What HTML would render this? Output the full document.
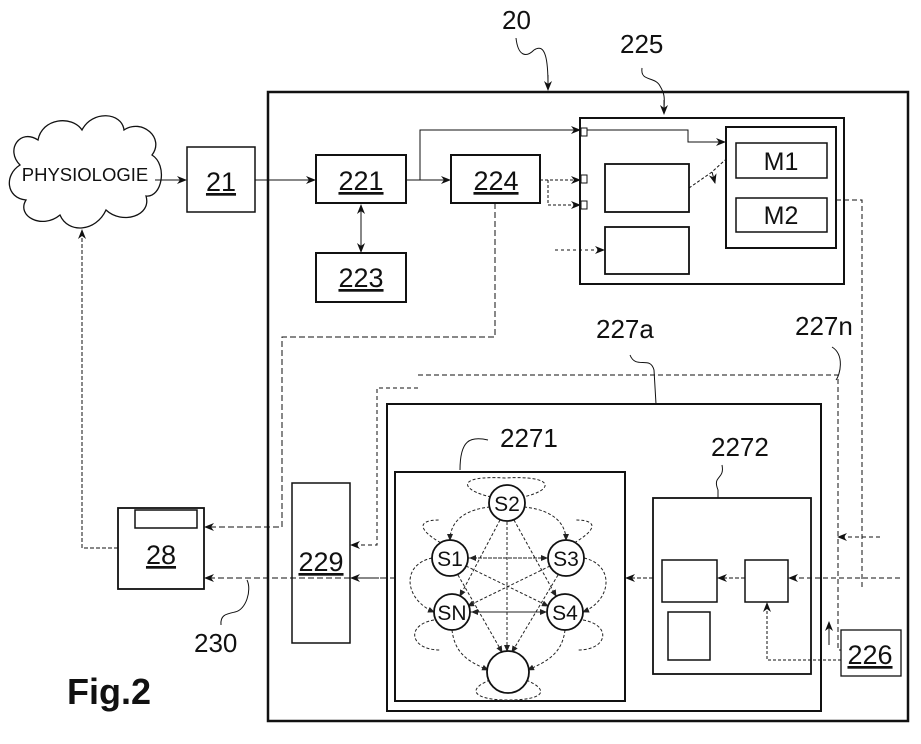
<!DOCTYPE html>
<html><head><meta charset="utf-8"><style>
body{margin:0;background:#fff}
svg{display:block}
text{font-family:"Liberation Sans",sans-serif;fill:#111}
</style></head><body>
<svg width="921" height="744" viewBox="0 0 921 744" xmlns="http://www.w3.org/2000/svg">
<defs>
<marker id="a" markerWidth="10" markerHeight="8" refX="9" refY="4" orient="auto" markerUnits="userSpaceOnUse"><path d="M0,0 L10,4 L0,8 L3,4 Z" fill="#111"/></marker>
<marker id="s" markerWidth="7" markerHeight="6" refX="6" refY="3" orient="auto" markerUnits="userSpaceOnUse"><path d="M0,0 L7,3 L0,6 Z" fill="#222"/></marker>
</defs>
<g fill="none" stroke="#111">
<rect x="268" y="92" width="640" height="629" stroke-width="2.5"/>
<path d="M20,165 C5,150 20,128 38,140 C42,118 72,115 82,130 C92,110 122,112 124,130 C142,118 165,138 152,155 C168,165 162,198 146,196 C152,216 122,225 106,210 C96,232 68,234 60,215 C42,230 16,216 26,200 C6,198 4,175 20,165 Z" stroke-width="1.3"/>
<rect x="187" y="147" width="68" height="65" stroke-width="1.5"/>
<rect x="316" y="155" width="90" height="48" stroke-width="2"/>
<rect x="451" y="155" width="89" height="48" stroke-width="2"/>
<rect x="316" y="253" width="90" height="49" stroke-width="2"/>
<rect x="580" y="118" width="264" height="166" stroke-width="2"/>
<rect x="605" y="164" width="84" height="48" stroke-width="1.8"/>
<rect x="605" y="227" width="84" height="47" stroke-width="1.8"/>
<rect x="726" y="127" width="110" height="121" stroke-width="2"/>
<rect x="736" y="143" width="91" height="35" stroke-width="1.5"/>
<rect x="736" y="198" width="91" height="34" stroke-width="1.5"/>
<rect x="581" y="128" width="6" height="8" stroke-width="1"/>
<rect x="581" y="175" width="6" height="8" stroke-width="1"/>
<rect x="581" y="201" width="6" height="8" stroke-width="1"/>
<rect x="118" y="508" width="86" height="81" stroke-width="1.8"/>
<rect x="135" y="510" width="62" height="18" stroke-width="1.5"/>
<rect x="292" y="483" width="58" height="160" stroke-width="1.5"/>
<rect x="387" y="404" width="434" height="307" stroke-width="2"/>
<rect x="395" y="472" width="230" height="229" stroke-width="2"/>
<rect x="653" y="498" width="158" height="176" stroke-width="1.8"/>
<rect x="662" y="560" width="55" height="42" stroke-width="1.5"/>
<rect x="745" y="560" width="43" height="42" stroke-width="1.5"/>
<rect x="668" y="612" width="42" height="48" stroke-width="1.5"/>
<rect x="841" y="630" width="60" height="46" stroke-width="1.3"/>
<line x1="155" y1="180" x2="186" y2="180" stroke-width="1" marker-end="url(#a)"/>
<line x1="255" y1="180" x2="315" y2="180" stroke-width="1" marker-end="url(#a)"/>
<line x1="406" y1="180" x2="450" y2="180" stroke-width="1" marker-end="url(#a)"/>
<polyline points="420,180 420,130 580,130" stroke-width="1" marker-end="url(#a)"/>
<polyline points="587,130 688,130 688,142 725,142" stroke-width="1" marker-end="url(#a)"/>
<line x1="361" y1="205" x2="361" y2="252" stroke-width="1" stroke-dasharray="3,2" marker-end="url(#a)"/>
<line x1="361" y1="250" x2="361" y2="205" stroke-width="1" stroke-dasharray="3,2" marker-end="url(#a)"/>
<polyline points="540,180 580,180" stroke-width="1" stroke-dasharray="3,2" marker-end="url(#a)"/>
<polyline points="548,180 548,205 580,205" stroke-width="1" stroke-dasharray="3,2" marker-end="url(#a)"/>
<line x1="555" y1="250" x2="604" y2="250" stroke-width="1" stroke-dasharray="3,3" marker-end="url(#a)"/>
<polyline points="689,188 712,172 725,160" stroke-width="1" stroke-dasharray="3,2"/>
<line x1="712" y1="172" x2="715" y2="183" stroke-width="1" marker-end="url(#a)"/>
<polyline points="836,200 862,200 862,590" stroke-width="1" stroke-dasharray="5,3"/>
<polyline points="495,203 495,337 282,337 282,527 205,527" stroke-width="1" stroke-dasharray="6,3" marker-end="url(#a)"/>
<polyline points="118,548 82,548 82,230" stroke-width="1" stroke-dasharray="4,2" marker-end="url(#a)"/>
<line x1="386" y1="578" x2="205" y2="578" stroke-width="1" stroke-dasharray="6,3" marker-end="url(#a)"/>
<line x1="395" y1="578" x2="351" y2="578" stroke-width="1" stroke-dasharray="5,3" marker-end="url(#a)"/>
<polyline points="418,388 377,388 377,545 351,545" stroke-width="1" stroke-dasharray="4,3" marker-end="url(#a)"/>
<polyline points="418,375 838,375 838,650 841,650" stroke-width="1" stroke-dasharray="5,3"/>
<line x1="653" y1="578" x2="626" y2="578" stroke-width="1" stroke-dasharray="4,2" marker-end="url(#a)"/>
<line x1="745" y1="578" x2="718" y2="578" stroke-width="1" stroke-dasharray="4,2" marker-end="url(#a)"/>
<line x1="900" y1="578" x2="789" y2="578" stroke-width="1" stroke-dasharray="5,3" marker-end="url(#a)"/>
<line x1="880" y1="537" x2="838" y2="537" stroke-width="1" stroke-dasharray="4,3" marker-end="url(#a)"/>
<polyline points="841,660 767,660 767,603" stroke-width="1" stroke-dasharray="3,2" marker-end="url(#a)"/>
<line x1="829" y1="645" x2="829" y2="622" stroke-width="1" marker-end="url(#a)"/>
<path d="M516,38 C518,56 526,58 534,50 C546,42 548,62 548,85" stroke-width="1"/>
<line x1="548" y1="75" x2="548" y2="90" stroke-width="1" marker-end="url(#a)"/>
<path d="M642,68 C640,82 655,76 660,86 C666,96 664,100 664,112" stroke-width="1"/>
<line x1="664" y1="100" x2="664" y2="114" stroke-width="1" marker-end="url(#a)"/>
<path d="M630,355 C636,370 650,355 654,370 L656,404" stroke-width="1"/>
<path d="M832,347 C845,355 840,375 836,380" stroke-width="1"/>
<path d="M488,440 C470,436 460,440 460,470" stroke-width="1"/>
<path d="M722,465 C725,480 712,475 718,490 L718,498" stroke-width="1"/>
<path d="M247,580 C252,590 246,610 235,612 C226,614 220,615 221,625" stroke-width="1"/>
</g>
<g fill="none" stroke="#222" stroke-width="1" stroke-dasharray="3,2">
<path d="M491,497 C460,490 455,475 505,478 C555,475 555,490 523,497"/>
<path d="M490,507 C460,510 450,525 450,540" marker-end="url(#s)"/>
<path d="M524,507 C555,510 566,525 566,540" marker-end="url(#s)"/>
<path d="M445,545 C425,535 410,520 440,520"/>
<path d="M570,545 C590,535 605,520 575,520"/>
<path d="M432,558 C400,565 405,600 434,612" marker-end="url(#s)"/>
<path d="M584,558 C615,565 612,600 583,612" marker-end="url(#s)"/>
<path d="M452,630 C455,655 470,662 488,670" marker-end="url(#s)"/>
<path d="M565,630 C562,655 545,662 528,670" marker-end="url(#s)"/>
<path d="M490,680 C465,690 475,700 508,700 C545,700 550,690 526,680"/>
<path d="M434,620 C405,625 410,650 440,650"/>
<path d="M583,620 C612,625 608,650 578,650"/>
<line x1="468" y1="558" x2="547" y2="558" marker-end="url(#s)"/>
<line x1="547" y1="558" x2="470" y2="558" marker-end="url(#s)"/>
<line x1="470" y1="612" x2="546" y2="612" marker-end="url(#s)"/>
<line x1="546" y1="612" x2="472" y2="612" marker-end="url(#s)"/>
<line x1="507" y1="522" x2="507" y2="651" marker-end="url(#s)"/>
<line x1="500" y1="520" x2="460" y2="596" marker-end="url(#s)"/>
<line x1="514" y1="520" x2="556" y2="596" marker-end="url(#s)"/>
<line x1="458" y1="575" x2="502" y2="652" marker-end="url(#s)"/>
<line x1="558" y1="575" x2="512" y2="652" marker-end="url(#s)"/>
<line x1="466" y1="566" x2="548" y2="606" marker-end="url(#s)"/>
<line x1="550" y1="566" x2="468" y2="606" marker-end="url(#s)"/>
</g>
<g fill="#fff" stroke="#111" stroke-width="1.8">
<circle cx="507" cy="503" r="18"/>
<circle cx="450" cy="558" r="18"/>
<circle cx="566" cy="558" r="18"/>
<circle cx="452" cy="612" r="18"/>
<circle cx="565" cy="612" r="18"/>
<circle cx="508" cy="672" r="21"/>
</g>
<g font-size="21" text-anchor="middle">
<text x="507" y="511">S2</text>
<text x="450" y="566">S1</text>
<text x="566" y="566">S3</text>
<text x="452" y="620">SN</text>
<text x="565" y="620">S4</text>
</g>
<g font-size="26">
<text x="85" y="181" font-size="18.5" text-anchor="middle">PHYSIOLOGIE</text>
<text x="221" y="191" font-size="27" text-anchor="middle" text-decoration="underline">21</text>
<text x="361" y="190" font-size="27" text-anchor="middle" text-decoration="underline">221</text>
<text x="496" y="190" font-size="27" text-anchor="middle" text-decoration="underline">224</text>
<text x="361" y="287" font-size="27" text-anchor="middle" text-decoration="underline">223</text>
<text x="781" y="170" font-size="25" text-anchor="middle">M1</text>
<text x="781" y="224" font-size="25" text-anchor="middle">M2</text>
<text x="161" y="564" font-size="27" text-anchor="middle" text-decoration="underline">28</text>
<text x="321" y="571" font-size="27" text-anchor="middle" text-decoration="underline">229</text>
<text x="870" y="664" font-size="27" text-anchor="middle" text-decoration="underline">226</text>
<text x="502" y="29">20</text>
<text x="620" y="53">225</text>
<text x="596" y="338">227a</text>
<text x="795" y="335">227n</text>
<text x="500" y="447">2271</text>
<text x="711" y="456">2272</text>
<text x="194" y="652">230</text>
<text x="67" y="704" font-size="36" font-weight="bold">Fig.2</text>
</g>
</svg>
</body></html>
